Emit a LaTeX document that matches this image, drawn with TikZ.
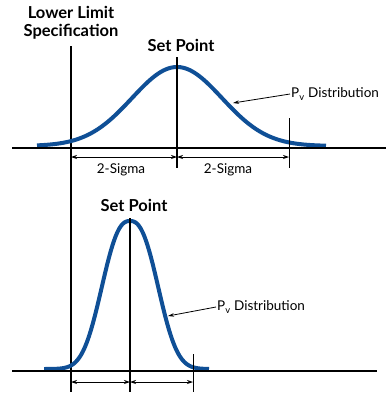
\documentclass[tikz,border=0pt]{standalone}
\usepackage{fontspec}
\setmainfont{Lato}
\usetikzlibrary{arrows.meta}
\definecolor{curveblue}{RGB}{15,79,150}
\tikzset{
  axisline/.style={line width=1.6pt, black},
  guide/.style={line width=1.4pt, black},
  tick/.style={line width=0.9pt, black},
  dimline/.style={line width=0.8pt, {Stealth[length=6pt,width=4pt]}-{Stealth[length=6pt,width=4pt]}},
  callout/.style={line width=0.8pt, -{Stealth[length=6pt,width=3.5pt]}},
  curve/.style={line width=4pt, curveblue},
  title/.style={font=\bfseries\fontsize{16.5}{18}\selectfont, align=center, inner sep=0pt},
  label/.style={font=\fontsize{13.5}{15}\selectfont, inner sep=1pt},
}
\begin{document}
\begin{tikzpicture}[x=1pt,y=-1pt]
\useasboundingbox (0,0) rectangle (389,394);
% titles
\node[title] (lls) at (71,23) {Lower Limit\\Specification};
\node[title] (sp1) at (181,45) {Set Point};
\node[title] (sp2) at (134,205) {Set Point};
% lower limit line
\coordinate (llTop) at (71,46);
\coordinate (llBot) at (71,392);
\draw[guide] (llTop) -- (llBot);
% top plot
\coordinate (b1L) at (12,148);
\coordinate (b1R) at (386,148);
\draw[curve] plot[domain=37:326, samples=120, smooth] (\x, {146-79*exp(-0.5*((\x-177)/45)^2)});
\draw[axisline] (b1L) -- (b1R);
\coordinate (sp1Top) at (177,57);
\coordinate (sp1Bot) at (177,168);
\draw[guide] (sp1Top) -- (sp1Bot);
\coordinate (t1Top) at (289,118);
\coordinate (t1Bot) at (289,168);
\draw[tick] (t1Top) -- (t1Bot);
\coordinate (d1a) at (71,157);
\coordinate (d1b) at (177,157);
\coordinate (d1c) at (289,157);
\draw[dimline] (d1a) -- (d1b);
\draw[dimline] (d1b) -- (d1c);
\node[label] (s1) at (121,170) {2-Sigma};
\node[label] (s2) at (228,170) {2-Sigma};
\node[label, anchor=west] (pv1) at (290,94) {P\textsubscript{v} Distribution};
\coordinate (pv1tip) at (233,103);
\draw[callout] (pv1.west) -- (pv1tip);
% bottom plot
\coordinate (b2L) at (12,371);
\coordinate (b2R) at (377,371);
\draw[curve] plot[domain=44:209, samples=140, smooth] (\x, {369-148*exp(-pow(abs(\x-130)/34.8,2.5))});
\draw[axisline] (b2L) -- (b2R);
\coordinate (sp2Top) at (130,218);
\coordinate (sp2Bot) at (130,392);
\draw[guide] (sp2Top) -- (sp2Bot);
\coordinate (t2Top) at (193,354);
\coordinate (t2Bot) at (193,392);
\draw[tick] (t2Top) -- (t2Bot);
\coordinate (d2a) at (71,382);
\coordinate (d2b) at (130,382);
\coordinate (d2c) at (193,382);
\draw[dimline] (d2a) -- (d2b);
\draw[dimline] (d2b) -- (d2c);
\node[label, anchor=west] (pv2) at (216,307) {P\textsubscript{v} Distribution};
\coordinate (pv2tip) at (168,316);
\draw[callout] (pv2.west) -- (pv2tip);
\end{tikzpicture}
\end{document}
